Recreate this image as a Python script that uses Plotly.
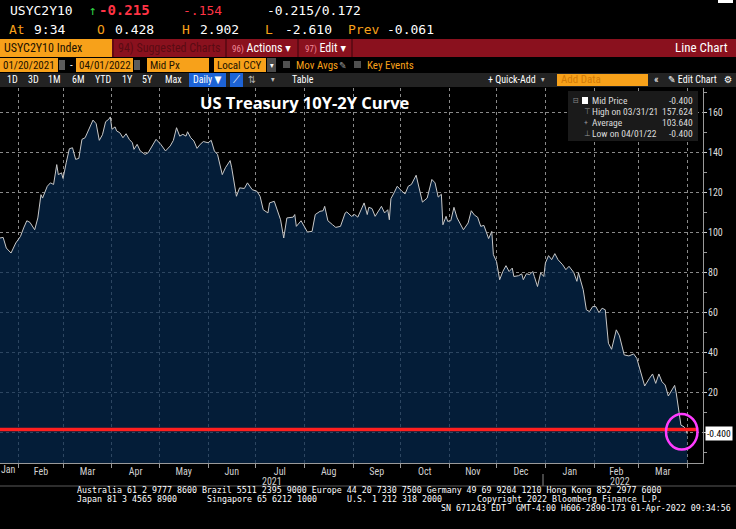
import plotly.graph_objects as go

# canvas / plot geometry (pixels)
W, H = 736, 529
ML, MR, MT, MB = 0, 33, 88, 66
PW, PH = W - ML - MR, H - MT - MB

MONO = "DejaVu Sans Mono, Liberation Mono, monospace"
NARROW = "Liberation Sans Narrow, Arial Narrow, Roboto Condensed, DejaVu Sans Condensed, sans-serif"
ORANGE = "#f7a11a"

# USYC2Y10 (10Y-2Y spread, bp)
dates = [
    "2021-01-20", "2021-01-22", "2021-01-24", "2021-01-27", "2021-01-30", "2021-02-02", "2021-02-04",
    "2021-02-06", "2021-02-08", "2021-02-11", "2021-02-13", "2021-02-15", "2021-02-16", "2021-02-19",
    "2021-02-21", "2021-02-23", "2021-02-25", "2021-02-26", "2021-02-28", "2021-03-01", "2021-03-03",
    "2021-03-05", "2021-03-07", "2021-03-09", "2021-03-11", "2021-03-13", "2021-03-15", "2021-03-18",
    "2021-03-20", "2021-03-22", "2021-03-24", "2021-03-26", "2021-03-28", "2021-03-30", "2021-03-31",
    "2021-04-01", "2021-04-03", "2021-04-04", "2021-04-06", "2021-04-08", "2021-04-10", "2021-04-12",
    "2021-04-14", "2021-04-15", "2021-04-17", "2021-04-19", "2021-04-22", "2021-04-24", "2021-04-27",
    "2021-04-29", "2021-05-02", "2021-05-05", "2021-05-08", "2021-05-10", "2021-05-12", "2021-05-14",
    "2021-05-16", "2021-05-18", "2021-05-19", "2021-05-21", "2021-05-23", "2021-05-25", "2021-05-27",
    "2021-05-29", "2021-06-01", "2021-06-03", "2021-06-05", "2021-06-07", "2021-06-10", "2021-06-12",
    "2021-06-15", "2021-06-16", "2021-06-19", "2021-06-21", "2021-06-24", "2021-06-26", "2021-06-29",
    "2021-07-02", "2021-07-04", "2021-07-06", "2021-07-09", "2021-07-10", "2021-07-13", "2021-07-15",
    "2021-07-17", "2021-07-19", "2021-07-21", "2021-07-25", "2021-07-26", "2021-07-27", "2021-07-30",
    "2021-08-01", "2021-08-03", "2021-08-06", "2021-08-08", "2021-08-11", "2021-08-13", "2021-08-14",
    "2021-08-16", "2021-08-19", "2021-08-21", "2021-08-24", "2021-08-27", "2021-08-28", "2021-08-31",
    "2021-09-02", "2021-09-04", "2021-09-08", "2021-09-10", "2021-09-11", "2021-09-13", "2021-09-15",
    "2021-09-17", "2021-09-19", "2021-09-21", "2021-09-23", "2021-09-24", "2021-09-25", "2021-09-27",
    "2021-09-29", "2021-10-02", "2021-10-04", "2021-10-06", "2021-10-08", "2021-10-11", "2021-10-13",
    "2021-10-15", "2021-10-18", "2021-10-20", "2021-10-21", "2021-10-23", "2021-10-25", "2021-10-27",
    "2021-10-28", "2021-10-30", "2021-10-31", "2021-11-02", "2021-11-04", "2021-11-06", "2021-11-10",
    "2021-11-13", "2021-11-15", "2021-11-17", "2021-11-19", "2021-11-21", "2021-11-23", "2021-11-26",
    "2021-11-28", "2021-11-29", "2021-12-01", "2021-12-03", "2021-12-05", "2021-12-07", "2021-12-09",
    "2021-12-11", "2021-12-12", "2021-12-15", "2021-12-17", "2021-12-18", "2021-12-20", "2021-12-22",
    "2021-12-24", "2021-12-25", "2021-12-27", "2021-12-29", "2021-12-31", "2022-01-01", "2022-01-03",
    "2022-01-05", "2022-01-07", "2022-01-09", "2022-01-12", "2022-01-14", "2022-01-16", "2022-01-19",
    "2022-01-21", "2022-01-22", "2022-01-24", "2022-01-25", "2022-01-27", "2022-01-29", "2022-01-31",
    "2022-02-02", "2022-02-04", "2022-02-06", "2022-02-08", "2022-02-09", "2022-02-10", "2022-02-12",
    "2022-02-15", "2022-02-17", "2022-02-20", "2022-02-23", "2022-02-26", "2022-02-28", "2022-03-02",
    "2022-03-05", "2022-03-08", "2022-03-10", "2022-03-12", "2022-03-14", "2022-03-16", "2022-03-18",
    "2022-03-20", "2022-03-22", "2022-03-24", "2022-03-25", "2022-03-27", "2022-03-28", "2022-03-30",
    "2022-03-31", "2022-04-01",
]
spread = [
    97.2, 97.5, 92.2, 89.7, 94.7, 98.0, 102.2,
    105.8, 105.0, 101.3, 107.2, 118.8, 117.1, 123.0,
    124.7, 123.9, 133.8, 128.8, 129.7, 126.9, 134.7,
    141.7, 142.2, 136.4, 136.9, 146.4, 147.2, 153.0,
    156.0, 154.2, 145.9, 148.7, 155.2, 156.4, 157.6,
    151.4, 152.6, 150.6, 149.7, 147.2, 149.2, 146.4,
    144.7, 141.4, 143.9, 140.6, 138.9, 139.7, 143.9,
    146.4, 143.9, 140.6, 143.1, 145.9, 152.2, 148.0,
    148.9, 148.0, 150.2, 147.2, 145.6, 141.9, 143.9,
    145.3, 144.7, 145.9, 140.6, 138.9, 128.8, 132.2,
    135.8, 132.2, 118.0, 122.2, 121.9, 124.7, 121.3,
    120.5, 118.0, 111.3, 109.7, 114.7, 115.5, 111.3,
    106.3, 97.2, 107.2, 107.6, 108.9, 103.0, 105.8,
    103.0, 100.2, 100.5, 108.9, 110.5, 110.8, 113.0,
    105.8, 103.8, 102.5, 103.0, 109.7, 110.2, 108.0,
    108.9, 107.6, 114.7, 108.9, 112.5, 111.9, 108.0,
    110.5, 113.0, 109.7, 111.3, 106.3, 116.8, 119.7,
    123.0, 120.5, 119.2, 123.0, 123.9, 128.5, 121.3,
    115.1, 117.1, 123.9, 126.4, 124.7, 117.6, 119.0,
    103.8, 108.0, 105.5, 105.8, 112.5, 107.2, 101.3,
    104.7, 110.8, 108.6, 107.6, 103.0, 103.5, 96.9,
    100.5, 88.9, 85.5, 76.4, 80.5, 83.4, 80.5,
    82.2, 78.0, 78.4, 79.3, 76.4, 79.4, 78.9,
    80.5, 78.0, 73.0, 79.8, 78.0, 84.7, 88.4,
    86.4, 89.4, 86.4, 83.8, 81.4, 83.1, 80.0,
    75.6, 79.8, 74.8, 71.4, 61.4, 60.5, 63.0,
    63.0, 60.0, 62.2, 61.4, 51.4, 44.7, 41.7,
    51.4, 48.4, 38.9, 38.4, 39.4, 37.2, 31.4,
    23.4, 27.2, 29.4, 24.7, 29.4, 25.5, 23.9,
    18.4, 21.4, 23.7, 20.0, 10.5, 3.9, 3.0,
    1.7, -0.4,
]

legend_rows = [("Mid Price", "-0.400"), ("High on 03/31/21", "157.624"),
               ("Average", "103.640"), ("Low on 04/01/22", "-0.400")]
period_buttons = ["1D", "3D", "1M", "6M", "YTD", "1Y", "5Y", "Max"]
footer_1 = ("Australia 61 2 9777 8600 Brazil 5511 2395 9000 Europe 44 20 7330 7500 "
            "Germany 49 69 9204 1210 Hong Kong 852 2977 6000")
footer_2 = ["Japan 81 3 4565 8900", "Singapore 65 6212 1000", "U.S. 1 212 318 2000",
            "Copyright 2022 Bloomberg Finance L.P."]
footer_3 = "SN 671243 EDT  GMT-4:00 H606-2890-173 01-Apr-2022 09:34:56"

Y_MIN, Y_MAX = -15, 172
X_START, X_END = "2021-01-20", "2022-04-11"
RED_LEVEL = 1.7


def px(x):
    return (x - ML) / PW


def py(y):
    return (H - MB - y) / PH


annotations = []
shapes = []


def label(x, y, text, color="white", size=11, family=NARROW, anchor="left"):
    annotations.append(dict(x=px(x), y=py(y), xref="paper", yref="paper", text=text,
                            showarrow=False, xanchor=anchor, yanchor="middle",
                            font=dict(color=color, size=size, family=family)))


def box(x0, y0, x1, y1, color, line_color=None):
    shapes.append(dict(type="rect", xref="paper", yref="paper",
                       x0=px(x0), x1=px(x1), y0=py(y1), y1=py(y0),
                       fillcolor=color, layer="above",
                       line=dict(width=1 if line_color else 0, color=line_color or color)))


def hline(x0, x1, y, color, width=1):
    shapes.append(dict(type="line", xref="paper", yref="paper", x0=px(x0), x1=px(x1),
                       y0=py(y), y1=py(y), line=dict(color=color, width=width), layer="above"))


def vline(x, y0, y1, color, width=1):
    shapes.append(dict(type="line", xref="paper", yref="paper", x0=px(x), x1=px(x),
                       y0=py(y0), y1=py(y1), line=dict(color=color, width=width), layer="above"))


fig = go.Figure()
fig.add_trace(go.Scatter(x=[dates[0], dates[-1]], y=[Y_MIN, Y_MIN], mode="lines",
                         line=dict(width=0), hoverinfo="skip", showlegend=False))
# translucent fill so the dotted grid shows through, as on the terminal
fig.add_trace(go.Scatter(x=dates, y=spread, mode="lines", fill="tonexty",
                         fillcolor="rgba(5,41,80,0.7)", line=dict(color="#c8c8c8", width=1),
                         showlegend=False))

# ---- header rows ----
label(8, 10, "USYC2Y10", size=13, family=MONO)
label(87, 10, "↑", color="#2ecc40", size=13, family=MONO)
label(97, 10, "<b>-0.215</b>", color="#ff3344", size=14, family=MONO)
label(181, 10, "-.154", color="#ff3344", size=13, family=MONO)
label(265, 10, "-0.215/0.172", size=13, family=MONO)
for x, t, c in [(7, "At", ORANGE), (32, "9:34", "white"), (95, "O", ORANGE), (113, "0.428", "white"),
                (180, "H", ORANGE), (198, "2.902", "white"), (263, "L", ORANGE), (283, "-2.610", "white"),
                (346, "Prev", ORANGE), (385, "-0.061", "white")]:
    label(x, 29, t, color=c, size=13, family=MONO)
box(718, 0, 733, 3, "white")

# red function bar
box(0, 39, 736, 57, "#8a111e")
box(0, 39, 112, 57, ORANGE)
label(2, 48, "USYC2Y10 Index", color="#1c1100", size=12)
label(116, 48, "94) Suggested Charts", color="#5a0b13", size=12)
label(230, 48, "<span style='font-size:9px;color:#f08a9a'>96)</span> Actions ▾", size=12)
label(303, 48, "<span style='font-size:9px;color:#f08a9a'>97)</span> Edit ▾", size=12)
for x in [113, 226, 298, 352]:
    vline(x, 39, 57, "#3a050a")
label(730, 47, "Line Chart", size=13, anchor="right")

# date / pricing row
for x0, x1, t in [(0, 58, "01/20/2021"), (76, 133, "04/01/2022"), (147, 209, "Mid Px"),
                  (214, 266, "Local CCY")]:
    box(x0, 58, x1, 72, ORANGE)
    label(x0 + 1, 65, t, color="#1c1100", size=11)
for x0 in [59, 134]:
    box(x0, 60, x0 + 6, 70, "#5c5c5c")
label(68, 65, "-", size=11)
box(267, 58, 276, 72, "#4a4a4a")
label(271.5, 65, "▾", size=8, anchor="center")
box(283, 61, 290, 68, "#505050")
label(294, 65, "Mov Avgs", color=ORANGE, size=11)
label(337, 65, "✎", color="#9a9a9a", size=10)
box(354, 61, 361, 68, "#505050")
label(365, 65, "Key Events", color=ORANGE, size=11)

# toolbar row
box(0, 73, 736, 87, "#232323")
for x, t in zip([12, 33, 54, 78, 103, 127, 147, 173], period_buttons):
    label(x, 80, t, size=10, anchor="center")
box(189, 73, 226, 87, "#1d63d6")
label(207, 80, "Daily ▼", size=10, anchor="center")
box(230, 73, 243, 87, "#1d63d6")
label(236.5, 80, "⟋", size=10, anchor="center")
label(252, 80, "⇅", color="#bbbbbb", size=10, anchor="center")
label(273, 80, "▾", color="#bbbbbb", size=8, anchor="center")
label(303, 80, "Table", size=10, anchor="center")
label(512, 80, "+ Quick-Add", size=10, anchor="center")
label(543, 80, "▾", color="#bbbbbb", size=8, anchor="center")
box(557, 74, 648, 86, ORANGE)
label(559, 80, "Add Data", color="#d27a06", size=11)
label(656, 80, "«", size=11, anchor="center")
label(692, 80, "✎ Edit Chart", size=10, anchor="center")
label(728, 80, "⚙", size=10, anchor="center")

# title
label(305, 102, "<b>US Treasury 10Y-2Y Curve</b>", size=16.5, family="Open Sans, sans-serif", anchor="center")

# statistics box
box(568, 91, 698, 141, "#1a1a1a")
box(582, 97, 588, 104, "white")
label(571, 101, "⊟", color="#888888", size=8)
for (name, val), y, sym in zip(legend_rows, [101, 111, 122, 133], ["", "⊤", "+", "⊥"]):
    if sym:
        label(582, y, sym, color="#9a9a9a", size=8)
    label(590, y, name, color="#dcdcdc", size=9.5)
    label(695, y, val, color="#dcdcdc", size=9.5, anchor="right")

# red zero line + marker circle
shapes.append(dict(type="line", xref="paper", yref="y", x0=0, x1=px(697), y0=RED_LEVEL, y1=RED_LEVEL,
                   line=dict(color="#ff1f1f", width=3.5), layer="above"))
shapes.append(dict(type="circle", xref="paper", yref="paper", x0=px(666), x1=px(697.5),
                   y0=py(449.5), y1=py(414), line=dict(color="#ff3cff", width=2.5), layer="above"))
annotations.append(dict(x=px(705), y=spread[-1], xref="paper", yref="y", text="-0.400",
                        showarrow=False, xanchor="left", yanchor="middle", bgcolor="white",
                        borderpad=1, font=dict(color="black", size=9.5, family=NARROW)))

# first (partial) month label, year row + footer
label(8, 469.5, "Jan", color="#d0d0d0", size=10, anchor="center")
label(272, 481.5, "2021", color="#d0d0d0", size=10, anchor="center")
label(620, 481.5, "2022", color="#d0d0d0", size=10, anchor="center")
vline(543, 474, 486, "#8a8a8a")
hline(0, 736, 486, "#5a5a5a")
label(75, 490, footer_1, size=8.3, family=MONO)
for x, t in zip([75, 205, 345, 475], footer_2):
    label(x, 499, t, size=8.3, family=MONO)
label(733, 508, footer_3, size=8.3, family=MONO, anchor="right")

fig.update_layout(
    width=W, height=H,
    margin=dict(l=ML, r=MR, t=MT, b=MB),
    paper_bgcolor="black", plot_bgcolor="black",
    showlegend=False,
    xaxis=dict(type="date", range=[X_START, X_END], dtick="M1", tick0="2021-01-01",
               tickformat="%b", ticklabelmode="period", showgrid=True, gridcolor="#8a8a8a",
               griddash="dot", gridwidth=1, ticks="outside", ticklen=4, tickcolor="#9a9a9a",
               showline=True, linecolor="#9a9a9a", zeroline=False, ticklabelstandoff=-5,
               tickfont=dict(size=10, color="#d0d0d0", family=NARROW)),
    yaxis=dict(side="right", range=[Y_MIN, Y_MAX], tick0=0, dtick=20, showgrid=True,
               gridcolor="#8a8a8a", griddash="dot", gridwidth=1, ticks="outside", ticklen=3,
               tickcolor="#cccccc", showline=True, linecolor="#9a9a9a", zeroline=False,
               ticklabelstandoff=-1,
               tickfont=dict(size=10, color="#dcdcdc", family=NARROW),
               minor=dict(dtick=10, ticks="outside", ticklen=3, tickcolor="#9a9a9a", showgrid=False)),
    annotations=annotations,
    shapes=shapes,
)

fig.write_html("out.html", config={"displayModeBar": False},
               post_script="document.body.style.margin='0';")
